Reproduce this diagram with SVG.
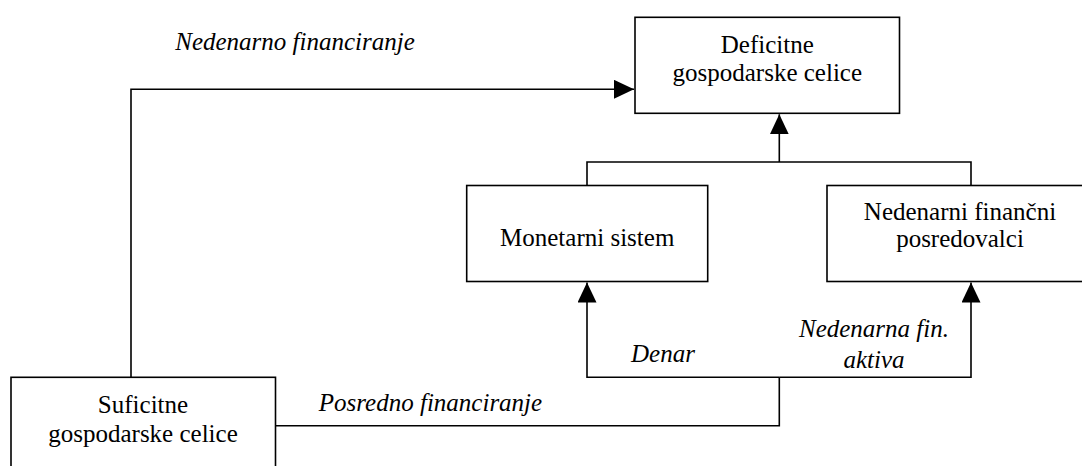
<svg xmlns="http://www.w3.org/2000/svg" width="1082" height="466" viewBox="0 0 1082 466">
<style>
.box{fill:#fff;stroke:#000;stroke-width:1.6}
text{font-family:'Liberation Serif','DejaVu Serif',serif;font-size:25px;fill:#000;text-anchor:middle}
.i{font-style:italic}
.c{fill:none;stroke:#000;stroke-width:1.6}
</style>
<defs>
<marker id="ah" markerUnits="userSpaceOnUse" markerWidth="20" markerHeight="19" refX="20" refY="9.5" orient="auto">
<path d="M0,0 L20,9.5 L0,19 z" fill="#000"/>
</marker>
</defs>
<rect width="1082" height="466" fill="#fff"/>
<g id="connectors">
<path class="c" d="M131,377.3 V89.3 H634" marker-end="url(#ah)"/>
<path class="c" d="M275.5,425.7 H779.3 V377.3"/>
<path class="c" d="M779.3,377.3 H587 V282.5" marker-end="url(#ah)"/>
<path class="c" d="M779.3,377.3 H971 V282.5" marker-end="url(#ah)"/>
<path class="c" d="M587,185.5 V162 H971 V185.5"/>
<path class="c" d="M779.3,162 V114.3" marker-end="url(#ah)"/>
<text class="i" font-family="Liberation Serif" x="295" y="50">Nedenarno financiranje</text>
<text class="i" font-family="Liberation Serif" x="430.5" y="411">Posredno financiranje</text>
<text class="i" font-family="Liberation Serif" x="663" y="362.3">Denar</text>
<text class="i" font-family="Liberation Serif" x="874" y="337.3">Nedenarna fin.</text>
<text class="i" font-family="Liberation Serif" x="874" y="367.7">aktiva</text>
</g>
<g id="deficitne">
<rect class="box" x="635" y="17.3" width="264.5" height="96"/>
<text font-family="Liberation Serif" x="767.3" y="52.5">Deficitne</text>
<text font-family="Liberation Serif" x="767.3" y="81">gospodarske celice</text>
</g>
<g id="monetarni">
<rect class="box" x="466.7" y="185.5" width="241" height="96"/>
<text font-family="Liberation Serif" x="587.2" y="245.7">Monetarni sistem</text>
</g>
<g id="nedenarni">
<rect class="box" x="827" y="185.5" width="266" height="96"/>
<text font-family="Liberation Serif" x="960" y="220">Nedenarni finančni</text>
<text font-family="Liberation Serif" x="960" y="247.3">posredovalci</text>
</g>
<g id="suficitne">
<rect class="box" x="11" y="377.3" width="264.5" height="96"/>
<text font-family="Liberation Serif" x="143" y="413.3">Suficitne</text>
<text font-family="Liberation Serif" x="143" y="441.7">gospodarske celice</text>
</g>
</svg>
